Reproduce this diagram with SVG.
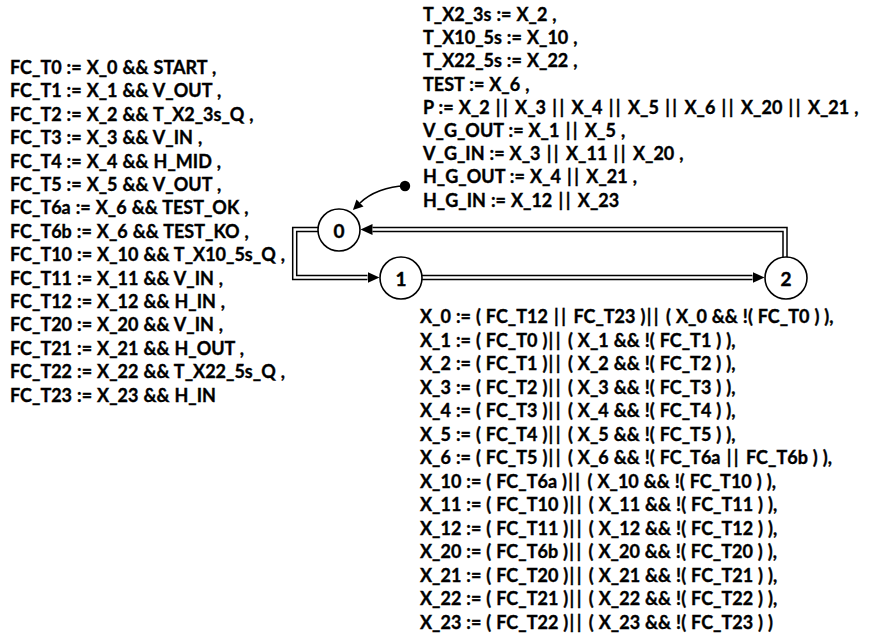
<svg xmlns="http://www.w3.org/2000/svg" width="871" height="637" viewBox="0 0 871 637">
<style>
.t{font-family:Lato,"Liberation Sans",sans-serif;font-weight:bold;font-size:18px;fill:#000;stroke:#000;stroke-width:0.35;word-spacing:0.6px}
.b{letter-spacing:2.5px}
.st{fill:#fff;stroke:#000;stroke-width:1.6}
.lbl{font-family:Lato,"Liberation Sans",sans-serif;font-weight:bold;font-size:19px;text-anchor:middle;dominant-baseline:central;stroke:#000;stroke-width:0.4}
.dbl{fill:none;stroke:#000;stroke-width:5.5;stroke-linejoin:miter}
.inn{fill:none;stroke:#fff;stroke-width:2.5;stroke-linejoin:miter}
</style>
<defs>
<marker id="ah" markerUnits="userSpaceOnUse" viewBox="0 0 12 12" refX="0" refY="6" markerWidth="12" markerHeight="12" orient="auto">
<path d="M0,0.5 L12,6 L0,11.5 z" fill="#000"/>
</marker>
<marker id="ai" markerUnits="userSpaceOnUse" viewBox="0 0 10 10" refX="0" refY="5" markerWidth="10" markerHeight="10" orient="auto">
<path d="M0,0 L10,5 L0,10 z" fill="#000"/>
</marker>
</defs>
<g id="conditions" class="t">
<text x="10" y="74">FC_T0 := X_0 &amp;&amp; START ,</text>
<text x="10" y="97.4">FC_T1 := X_1 &amp;&amp; V_OUT ,</text>
<text x="10" y="120.8">FC_T2 := X_2 &amp;&amp; T_X2_3s_Q ,</text>
<text x="10" y="144.2">FC_T3 := X_3 &amp;&amp; V_IN ,</text>
<text x="10" y="167.6">FC_T4 := X_4 &amp;&amp; H_MID ,</text>
<text x="10" y="191">FC_T5 := X_5 &amp;&amp; V_OUT ,</text>
<text x="10" y="214.4">FC_T6a := X_6 &amp;&amp; TEST_OK ,</text>
<text x="10" y="237.8">FC_T6b := X_6 &amp;&amp; TEST_KO ,</text>
<text x="10" y="261.2">FC_T10 := X_10 &amp;&amp; T_X10_5s_Q ,</text>
<text x="10" y="284.6">FC_T11 := X_11 &amp;&amp; V_IN ,</text>
<text x="10" y="308">FC_T12 := X_12 &amp;&amp; H_IN ,</text>
<text x="10" y="331.4">FC_T20 := X_20 &amp;&amp; V_IN ,</text>
<text x="10" y="354.8">FC_T21 := X_21 &amp;&amp; H_OUT ,</text>
<text x="10" y="378.2">FC_T22 := X_22 &amp;&amp; T_X22_5s_Q ,</text>
<text x="10" y="401.6">FC_T23 := X_23 &amp;&amp; H_IN</text>
</g>
<g id="outputs" class="t">
<text x="423" y="21">T_X2_3s := X_2 ,</text>
<text x="423" y="44.2">T_X10_5s := X_10 ,</text>
<text x="423" y="67.4">T_X22_5s := X_22 ,</text>
<text x="423" y="90.6">TEST := X_6 ,</text>
<text x="423" y="113.8">P := X_2 <tspan class="b" dx="1.2">||</tspan> X_3 <tspan class="b" dx="1.2">||</tspan> X_4 <tspan class="b" dx="1.2">||</tspan> X_5 <tspan class="b" dx="1.2">||</tspan> X_6 <tspan class="b" dx="1.2">||</tspan> X_20 <tspan class="b" dx="1.2">||</tspan> X_21 ,</text>
<text x="423" y="137">V_G_OUT := X_1 <tspan class="b" dx="1.2">||</tspan> X_5 ,</text>
<text x="423" y="160.2">V_G_IN := X_3 <tspan class="b" dx="1.2">||</tspan> X_11 <tspan class="b" dx="1.2">||</tspan> X_20 ,</text>
<text x="423" y="183.4">H_G_OUT := X_4 <tspan class="b" dx="1.2">||</tspan> X_21 ,</text>
<text x="423" y="206.6">H_G_IN := X_12 <tspan class="b" dx="1.2">||</tspan> X_23</text>
</g>
<g id="steps" class="t">
<text x="420" y="323">X_0 := ( FC_T12 <tspan class="b" dx="1.2">||</tspan> FC_T23 )<tspan class="b" dx="1.2">||</tspan> ( X_0 &amp;&amp; !( FC_T0 ) ),</text>
<text x="420" y="346.5">X_1 := ( FC_T0 )<tspan class="b" dx="1.2">||</tspan> ( X_1 &amp;&amp; !( FC_T1 ) ),</text>
<text x="420" y="370">X_2 := ( FC_T1 )<tspan class="b" dx="1.2">||</tspan> ( X_2 &amp;&amp; !( FC_T2 ) ),</text>
<text x="420" y="393.5">X_3 := ( FC_T2 )<tspan class="b" dx="1.2">||</tspan> ( X_3 &amp;&amp; !( FC_T3 ) ),</text>
<text x="420" y="417">X_4 := ( FC_T3 )<tspan class="b" dx="1.2">||</tspan> ( X_4 &amp;&amp; !( FC_T4 ) ),</text>
<text x="420" y="440.5">X_5 := ( FC_T4 )<tspan class="b" dx="1.2">||</tspan> ( X_5 &amp;&amp; !( FC_T5 ) ),</text>
<text x="420" y="464">X_6 := ( FC_T5 )<tspan class="b" dx="1.2">||</tspan> ( X_6 &amp;&amp; !( FC_T6a <tspan class="b" dx="1.2">||</tspan> FC_T6b ) ),</text>
<text x="420" y="487.5">X_10 := ( FC_T6a )<tspan class="b" dx="1.2">||</tspan> ( X_10 &amp;&amp; !( FC_T10 ) ),</text>
<text x="420" y="511">X_11 := ( FC_T10 )<tspan class="b" dx="1.2">||</tspan> ( X_11 &amp;&amp; !( FC_T11 ) ),</text>
<text x="420" y="534.5">X_12 := ( FC_T11 )<tspan class="b" dx="1.2">||</tspan> ( X_12 &amp;&amp; !( FC_T12 ) ),</text>
<text x="420" y="558">X_20 := ( FC_T6b )<tspan class="b" dx="1.2">||</tspan> ( X_20 &amp;&amp; !( FC_T20 ) ),</text>
<text x="420" y="581.5">X_21 := ( FC_T20 )<tspan class="b" dx="1.2">||</tspan> ( X_21 &amp;&amp; !( FC_T21 ) ),</text>
<text x="420" y="605">X_22 := ( FC_T21 )<tspan class="b" dx="1.2">||</tspan> ( X_22 &amp;&amp; !( FC_T22 ) ),</text>
<text x="420" y="628.5">X_23 := ( FC_T22 )<tspan class="b" dx="1.2">||</tspan> ( X_23 &amp;&amp; !( FC_T23 ) )</text>
</g>
<g id="connectors">
<path class="dbl" d="M339,229.5 H294.7 V277.5 H367.5" marker-end="url(#ah)"/>
<path class="inn" d="M339,229.5 H294.7 V277.5 H367.5"/>
<path class="dbl" d="M401,277.5 H752.5" marker-end="url(#ah)"/>
<path class="inn" d="M401,277.5 H752.5"/>
<path class="dbl" d="M785,278 V229.5 H372.5" marker-end="url(#ah)"/>
<path class="inn" d="M785,278 V229.5 H372.5"/>
<path d="M405,186 C388,186 370,193 360,203" fill="none" stroke="#000" stroke-width="1.6" marker-end="url(#ai)"/>
<circle cx="405" cy="186" r="5.2" fill="#000"/>
</g>
<g id="s0"><circle class="st" cx="339" cy="230" r="21"/><text class="lbl" x="339" y="230">0</text></g>
<g id="s1"><circle class="st" cx="401" cy="278" r="21"/><text class="lbl" x="401" y="278">1</text></g>
<g id="s2"><circle class="st" cx="786" cy="278" r="21"/><text class="lbl" x="786" y="278">2</text></g>
</svg>
